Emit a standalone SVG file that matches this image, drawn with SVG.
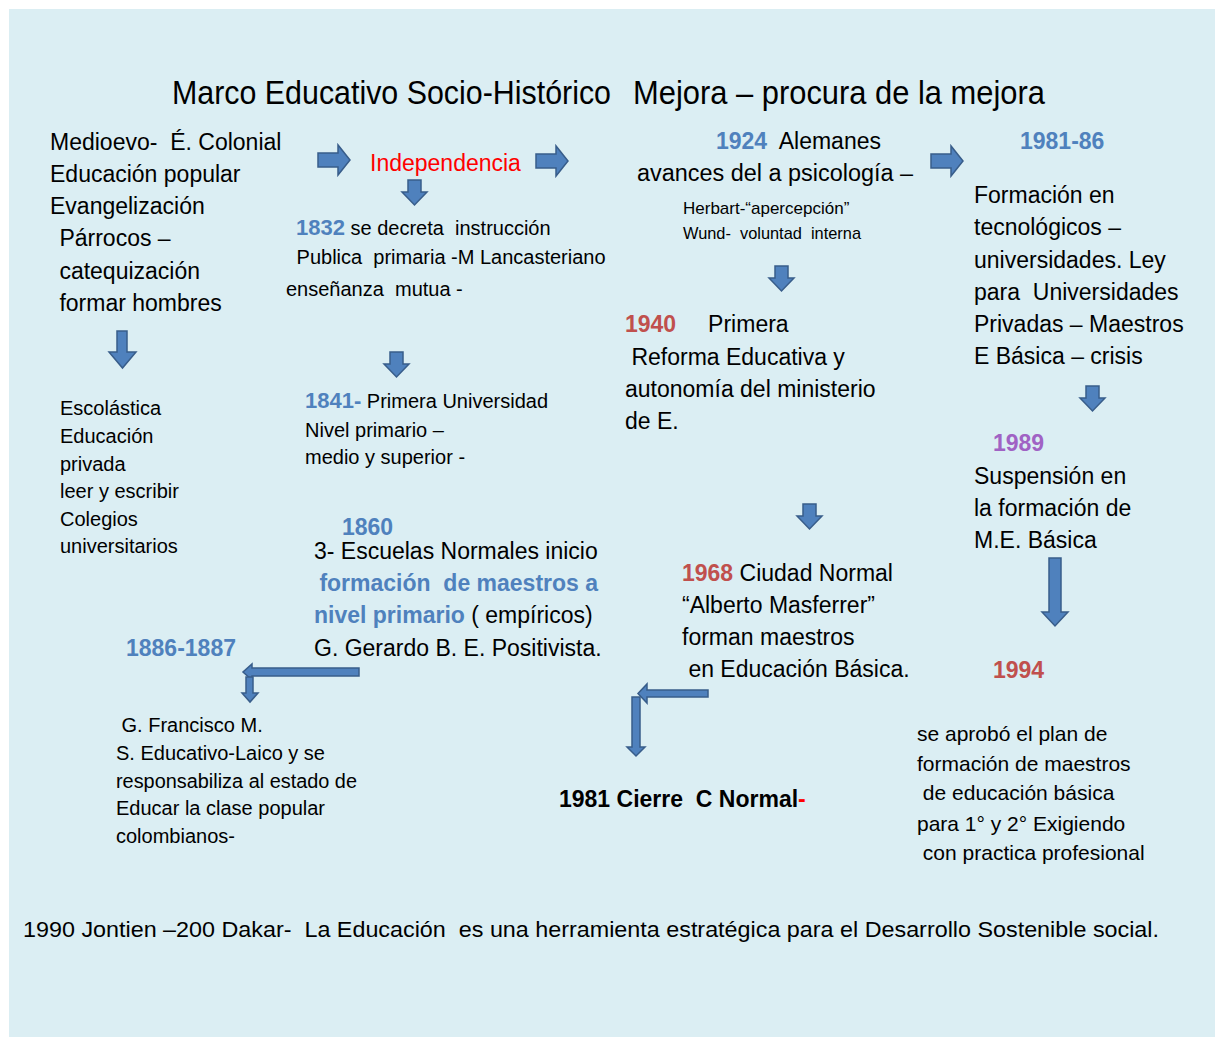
<svg xmlns="http://www.w3.org/2000/svg" xmlns:xlink="http://www.w3.org/1999/xlink" width="1216" height="1037" viewBox="0 0 1216 1037">
<style>
text{font-family:"Liberation Sans",Arial,sans-serif;fill:#000;white-space:pre}
.title{font-family:"Liberation Sans Narrow","Liberation Sans",sans-serif;font-size:34px}
.t23{font-size:23px}
.t20{font-size:20px}
.t17{font-size:17px}
.blue{fill:#4F81BD;font-weight:bold}
.red{fill:#FF0000}
.dred{fill:#C0504D;font-weight:bold}
.purple{fill:#A062C4;font-weight:bold}
.bold{font-weight:bold}
.arr{fill:#4F81BD;stroke:#385D8A;stroke-width:1.5;stroke-linejoin:miter}
</style>
<defs>
<path id="arrR" d="M0,8 H20 V0 L32,15 L20,30 V22 H0 Z"/>
<path id="arrD" d="M6,0 H19 V12 H25 L12.5,25 L0,12 H6 Z"/>
</defs>
<rect x="9" y="9" width="1206" height="1028" fill="#DBEEF3"/>
<g id="title"><text class="title" x="172" y="104" textLength="439" lengthAdjust="spacingAndGlyphs">Marco Educativo Socio-Histórico</text><text class="title" x="633" y="104" textLength="412" lengthAdjust="spacingAndGlyphs">Mejora – procura de la mejora</text></g>
<g id="connectors">
<use href="#arrR" xlink:href="#arrR" class="arr" x="318" y="145"/>
<use href="#arrR" xlink:href="#arrR" class="arr" x="536" y="146"/>
<use href="#arrR" xlink:href="#arrR" class="arr" x="931" y="146"/>
<use href="#arrD" xlink:href="#arrD" class="arr" x="402" y="180"/>
<use href="#arrD" xlink:href="#arrD" class="arr" x="384" y="352"/>
<use href="#arrD" xlink:href="#arrD" class="arr" x="769" y="266"/>
<use href="#arrD" xlink:href="#arrD" class="arr" x="797" y="504"/>
<use href="#arrD" xlink:href="#arrD" class="arr" x="1080" y="386"/>
<path class="arr" d="M117,331 H127 V352 H136 L122.5,368 L109,352 H117 Z"/>
<path class="arr" d="M1049,558 H1061 V612 H1068 L1055,626 L1042,612 H1049 Z"/>
<path class="arr" d="M359,668 V676 H252 V680 L243,672 L252,664 V668 Z"/>
<path class="arr" d="M246,677 H253 V693 H258 L250,702 L242,693 H246 Z"/>
<path class="arr" d="M708,690 V697 H647 V703 L638,693.5 L647,684 V690 Z"/>
<path class="arr" d="M632,697 H640 V747 H645 L636,756 L627,747 H632 Z"/>
</g>
<g id="node-medioevo" class="t23"><text x="50" y="150">Medioevo-  É. Colonial</text><text x="50" y="182">Educación popular</text><text x="50" y="214">Evangelización</text><text x="53" y="246"> Párrocos –</text><text x="53" y="279"> catequización</text><text x="53" y="311"> formar hombres</text></g>
<g id="node-escolastica" class="t20"><text x="60" y="415">Escolástica</text><text x="60" y="443">Educación</text><text x="60" y="471">privada</text><text x="60" y="498">leer y escribir</text><text x="60" y="526">Colegios</text><text x="60" y="553">universitarios</text></g>
<g id="node-independencia"><text class="t23 red" x="370" y="171">Independencia</text></g>
<g id="node-1832" class="t20"><text x="296" y="235"><tspan class="blue" style="font-size:22px">1832</tspan> se decreta  instrucción</text><text x="291" y="264"> Publica  primaria -M Lancasteriano</text><text x="286" y="296">enseñanza  mutua -</text></g>
<g id="node-1841" class="t20"><text x="305" y="408"><tspan class="blue" style="font-size:22px">1841-</tspan> Primera Universidad</text><text x="305" y="437">Nivel primario –</text><text x="305" y="464">medio y superior -</text></g>
<g id="node-1860" class="t23"><text class="blue" x="342" y="535">1860</text><text x="314" y="559">3- Escuelas Normales inicio</text><text class="blue" x="313" y="591"> formación  de maestros a</text><text x="314" y="623"><tspan class="blue">nivel primario</tspan> ( empíricos)</text><text x="314" y="656">G. Gerardo B. E. Positivista.</text></g>
<g id="node-1886"><text class="t23 blue" x="126" y="656">1886-1887</text></g>
<g id="node-francisco" class="t20"><text x="116" y="732"> G. Francisco M.</text><text x="116" y="760">S. Educativo-Laico y se</text><text x="116" y="788" textLength="241" lengthAdjust="spacingAndGlyphs">responsabiliza al estado de</text><text x="116" y="815">Educar la clase popular</text><text x="116" y="843">colombianos-</text></g>
<g id="node-1924"><text class="t23" x="716" y="149"><tspan class="blue">1924</tspan>  Alemanes</text><text class="t23" x="637" y="181" textLength="276" lengthAdjust="spacingAndGlyphs">avances del a psicología –</text><text class="t17" x="683" y="214">Herbart-“apercepción”</text><text class="t17" x="683" y="239" textLength="178" lengthAdjust="spacingAndGlyphs">Wund-  voluntad  interna</text></g>
<g id="node-1940" class="t23"><text x="625" y="332"><tspan class="dred">1940</tspan>     Primera</text><text x="625" y="365"> Reforma Educativa y</text><text x="625" y="397">autonomía del ministerio</text><text x="625" y="429">de E.</text></g>
<g id="node-1968" class="t23"><text x="682" y="581"><tspan class="dred">1968</tspan> Ciudad Normal</text><text x="682" y="613">“Alberto Masferrer”</text><text x="682" y="645">forman maestros</text><text x="682" y="677"> en Educación Básica.</text></g>
<g id="node-1981cierre"><text class="bold" x="559" y="807" style="font-size:23px">1981 Cierre  C Normal<tspan class="red">-</tspan></text></g>
<g id="node-1981-86" class="t23"><text class="blue" x="1020" y="149">1981-86</text><text x="974" y="203">Formación en</text><text x="974" y="235">tecnológicos –</text><text x="974" y="268">universidades. Ley</text><text x="974" y="300">para  Universidades</text><text x="974" y="332">Privadas – Maestros</text><text x="974" y="364">E Básica – crisis</text></g>
<g id="node-1989" class="t23"><text class="purple" x="993" y="451">1989</text><text x="974" y="484">Suspensión en</text><text x="974" y="516">la formación de</text><text x="974" y="548">M.E. Básica</text></g>
<g id="node-1994"><text class="t23 dred" x="993" y="678">1994</text></g>
<g id="node-plan" style="font-size:21px"><text x="917" y="741">se aprobó el plan de</text><text x="917" y="771">formación de maestros</text><text x="917" y="800"> de educación básica</text><text x="917" y="831">para 1° y 2° Exigiendo</text><text x="917" y="860"> con practica profesional</text></g>
<g id="node-bottom"><text x="23" y="937" style="font-size:22px" textLength="1136" lengthAdjust="spacingAndGlyphs">1990 Jontien –200 Dakar-  La Educación  es una herramienta estratégica para el Desarrollo Sostenible social.</text></g>
</svg>
